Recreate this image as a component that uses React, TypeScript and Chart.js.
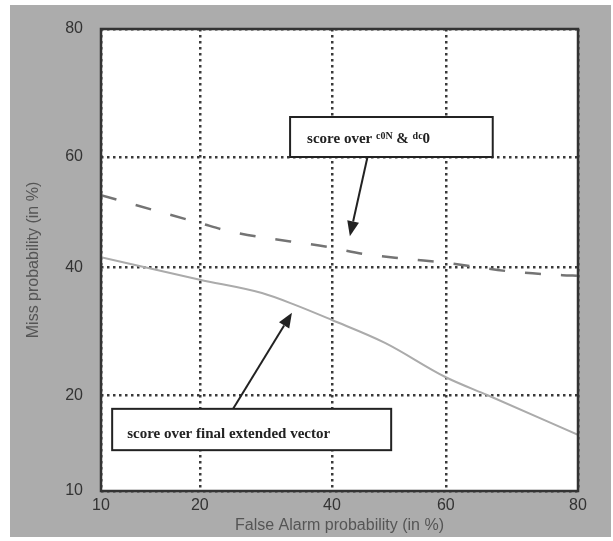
import React, { useEffect, useRef } from "react";
import { Chart, registerables } from "chart.js";

Chart.register(...registerables);

// ---- Data (percent values) ----
const X_TICKS = [10, 20, 40, 60, 80];
const Y_TICKS = [10, 20, 40, 60, 80];

// "score over c0N & dc0" (dashed)
const DASHED_FA = [10, 20, 24.2, 40, 45.4, 53.2, 60, 71, 78, 80];
const DASHED_MISS = [53.1, 48, 46.4, 43.5, 42.4, 41.5, 40.8, 39.2, 38.6, 38.5];

// "score over final extended vector" (solid)
const SOLID_FA = [10, 20, 28.6, 33.8, 40, 49.3, 60, 67, 80];
const SOLID_MISS = [41.8, 37.8, 35.5, 33.5, 31, 27.4, 22.4, 20, 15.3];

// ---- Normal deviate (probit) ----
function probit(p: number): number {
  const a = [-3.969683028665376e1, 2.209460984245205e2, -2.759285104469687e2, 1.38357751867269e2, -3.066479806614716e1, 2.506628277459239];
  const b = [-5.447609879822406e1, 1.615858368580409e2, -1.556989798598866e2, 6.680131188771972e1, -1.328068155288572e1];
  const c = [-7.784894002430293e-3, -3.223964580411365e-1, -2.400758277161838, -2.549732539343734, 4.374664141464968, 2.938163982698783];
  const d = [7.784695709041462e-3, 3.224671290700398e-1, 2.445134137142996, 3.754408661907416];
  const pl = 0.02425;
  if (p < pl) {
    const q = Math.sqrt(-2 * Math.log(p));
    return (((((c[0] * q + c[1]) * q + c[2]) * q + c[3]) * q + c[4]) * q + c[5]) / ((((d[0] * q + d[1]) * q + d[2]) * q + d[3]) * q + 1);
  }
  if (p <= 1 - pl) {
    const q = p - 0.5;
    const r = q * q;
    return ((((((a[0] * r + a[1]) * r + a[2]) * r + a[3]) * r + a[4]) * r + a[5]) * q) / (((((b[0] * r + b[1]) * r + b[2]) * r + b[3]) * r + b[4]) * r + 1);
  }
  const q = Math.sqrt(-2 * Math.log(1 - p));
  return -(((((c[0] * q + c[1]) * q + c[2]) * q + c[3]) * q + c[4]) * q + c[5]) / ((((d[0] * q + d[1]) * q + d[2]) * q + d[3]) * q + 1);
}
const pz = (v: number) => probit(v / 100);

function toPx(chart: any, fa: number, miss: number): [number, number] {
  return [chart.scales.x.getPixelForValue(pz(fa)), chart.scales.y.getPixelForValue(pz(miss))];
}

function drawArrow(ctx: CanvasRenderingContext2D, x1: number, y1: number, x2: number, y2: number) {
  const ang = Math.atan2(y2 - y1, x2 - x1);
  const headLen = 15;
  const headW = 6;
  const bx = x2 - headLen * Math.cos(ang);
  const by = y2 - headLen * Math.sin(ang);
  ctx.save();
  ctx.strokeStyle = "#222";
  ctx.fillStyle = "#222";
  ctx.lineWidth = 2;
  ctx.beginPath();
  ctx.moveTo(x1, y1);
  ctx.lineTo(bx, by);
  ctx.stroke();
  ctx.beginPath();
  ctx.moveTo(x2, y2);
  ctx.lineTo(bx + headW * Math.sin(ang), by - headW * Math.cos(ang));
  ctx.lineTo(bx - headW * Math.sin(ang), by + headW * Math.cos(ang));
  ctx.closePath();
  ctx.fill();
  ctx.restore();
}

function drawBox(ctx: CanvasRenderingContext2D, x1: number, y1: number, x2: number, y2: number) {
  ctx.save();
  ctx.fillStyle = "#ffffff";
  ctx.fillRect(x1, y1, x2 - x1, y2 - y1);
  ctx.strokeStyle = "#222";
  ctx.lineWidth = 2;
  ctx.strokeRect(x1, y1, x2 - x1, y2 - y1);
  ctx.restore();
}

const framePlugin = {
  id: "frame",
  beforeDraw(chart: any) {
    const { ctx, width, height, chartArea } = chart;
    ctx.save();
    ctx.fillStyle = "#ffffff";
    ctx.fillRect(0, 0, width, height);
    ctx.fillStyle = "#acacac";
    ctx.fillRect(10, 5, width - 12, height - 9);
    ctx.fillStyle = "#ffffff";
    ctx.fillRect(chartArea.left, chartArea.top, chartArea.right - chartArea.left, chartArea.bottom - chartArea.top);
    ctx.restore();
  },
  afterDraw(chart: any) {
    const { ctx, chartArea } = chart;
    ctx.save();
    ctx.strokeStyle = "#333";
    ctx.lineWidth = 2.5;
    ctx.strokeRect(chartArea.left, chartArea.top, chartArea.right - chartArea.left, chartArea.bottom - chartArea.top);
    ctx.restore();

    // Annotation 1
    const [b1x1, b1y1] = toPx(chart, 33, 66.9);
    const [b1x2, b1y2] = toPx(chart, 67.8, 60);
    const [a1sx, a1sy] = toPx(chart, 46.2, 60);
    const [a1tx, a1ty] = toPx(chart, 43.1, 45.6);
    drawArrow(ctx, a1sx, a1sy, a1tx, a1ty);
    drawBox(ctx, b1x1, b1y1, b1x2, b1y2);
    ctx.save();
    ctx.fillStyle = "#222";
    ctx.textBaseline = "alphabetic";
    const parts = [
      { t: "score over ", sup: false },
      { t: "c0N", sup: true },
      { t: " & ", sup: false },
      { t: "dc", sup: true },
      { t: "0", sup: false },
    ];
    let tx = b1x1 + 17;
    const ty = (b1y1 + b1y2) / 2 + 6;
    for (const p of parts) {
      ctx.font = p.sup ? "bold 10px 'Liberation Serif'" : "bold 15px 'Liberation Serif'";
      ctx.fillText(p.t, tx, p.sup ? ty - 4 : ty);
      tx += ctx.measureText(p.t).width;
    }
    ctx.restore();

    // Annotation 2
    const [b2x1, b2y1] = toPx(chart, 10.9, 18.3);
    const [b2x2, b2y2] = toPx(chart, 50.4, 13.7);
    const [a2sx, a2sy] = toPx(chart, 24.4, 18.3);
    const [a2tx, a2ty] = toPx(chart, 33.3, 32.2);
    drawArrow(ctx, a2sx, a2sy, a2tx, a2ty);
    drawBox(ctx, b2x1, b2y1, b2x2, b2y2);
    ctx.save();
    ctx.fillStyle = "#222";
    ctx.font = "bold 15px 'Liberation Serif'";
    ctx.textBaseline = "alphabetic";
    ctx.fillText("score over final extended vector", b2x1 + 15, (b2y1 + b2y2) / 2 + 8);
    ctx.restore();
  },
};

export default function App() {
  const ref = useRef<HTMLCanvasElement | null>(null);

  useEffect(() => {
    if (!ref.current) return;
    const chart = new Chart(ref.current, {
      type: "line",
      data: {
        datasets: [
          {
            label: "score over c0N & dc0",
            data: DASHED_FA.map((x, i) => ({ x: pz(x), y: pz(DASHED_MISS[i]) })),
            borderColor: "#747474",
            borderWidth: 2.5,
            borderDash: [16, 20],
            pointRadius: 0,
            cubicInterpolationMode: "monotone",
            fill: false,
          },
          {
            label: "score over final extended vector",
            data: SOLID_FA.map((x, i) => ({ x: pz(x), y: pz(SOLID_MISS[i]) })),
            borderColor: "#ababab",
            borderWidth: 2,
            pointRadius: 0,
            cubicInterpolationMode: "monotone",
            fill: false,
          },
        ],
      },
      options: {
        animation: false,
        responsive: false,
        maintainAspectRatio: false,
        layout: { padding: { top: 29, right: 35, left: 0, bottom: 0 } },
        plugins: { legend: { display: false }, tooltip: { enabled: false } },
        scales: {
          x: {
            type: "linear",
            min: pz(10),
            max: pz(80),
            afterBuildTicks: (s: any) => {
              s.ticks = X_TICKS.map((v) => ({ value: pz(v) }));
            },
            afterFit: (s: any) => {
              s.height = 50;
            },
            ticks: {
              callback: (_v: any, i: number) => String(X_TICKS[i]),
              font: { family: "'Liberation Sans'", size: 16 },
              color: "#333",
              padding: 5,
              maxRotation: 0,
              autoSkip: false,
            },
            grid: { color: "#3a3a3a", lineWidth: 2.5, drawTicks: false },
            border: { display: false, dash: [2.5, 3.5] },
            title: {
              display: true,
              text: "False Alarm probability (in %)",
              font: { family: "'Liberation Sans'", size: 16 },
              color: "#555",
              padding: { top: 0, bottom: 6 },
            },
          },
          y: {
            type: "linear",
            min: pz(10),
            max: pz(80),
            afterBuildTicks: (s: any) => {
              s.ticks = Y_TICKS.map((v) => ({ value: pz(v) }));
            },
            afterFit: (s: any) => {
              s.width = 101;
            },
            ticks: {
              callback: (_v: any, i: number) => String(Y_TICKS[i]),
              font: { family: "'Liberation Sans'", size: 16 },
              color: "#333",
              padding: 18,
              autoSkip: false,
            },
            grid: { color: "#3a3a3a", lineWidth: 2.5, drawTicks: false },
            border: { display: false, dash: [2.5, 3.5] },
            title: {
              display: true,
              text: "Miss probability (in %)",
              font: { family: "'Liberation Sans'", size: 16 },
              color: "#555",
              padding: { top: 24, bottom: 0 },
            },
          },
        },
      },
      plugins: [framePlugin],
    });
    return () => chart.destroy();
  }, []);

  return (
    <div style={{ position: "absolute", left: 0, top: 0, width: 613, height: 541 }}>
      <canvas ref={ref} width={613} height={541} style={{ display: "block" }} />
    </div>
  );
}
